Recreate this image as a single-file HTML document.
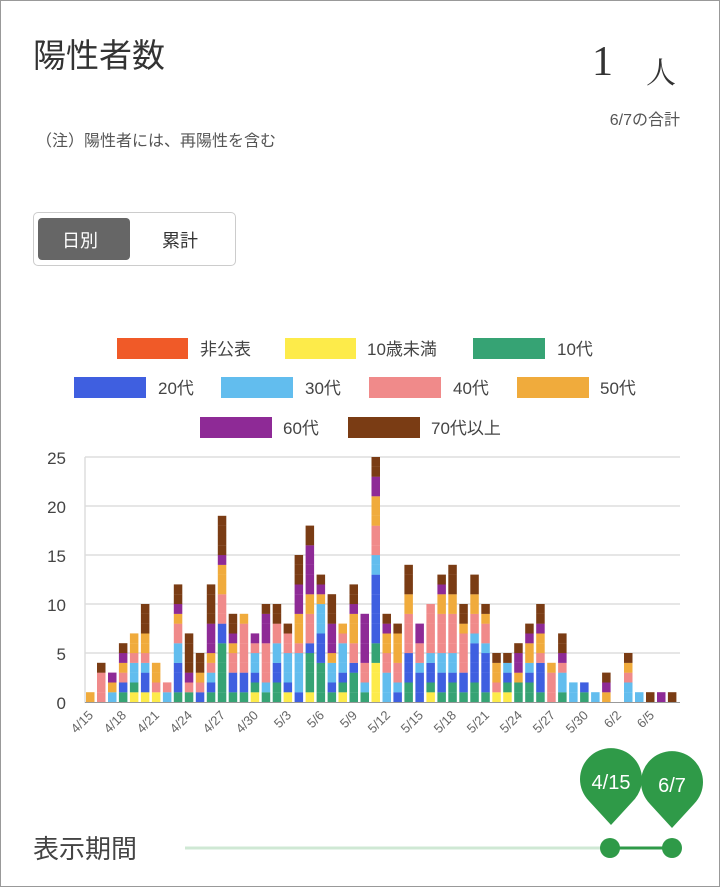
<!DOCTYPE html>
<html><head><meta charset="utf-8"><style>
body{margin:0;background:#fff;font-family:"Liberation Sans","Noto Sans CJK JP",sans-serif;}
#f{position:absolute;left:0;top:0;width:718px;height:885px;border:1px solid #999;}
.t{position:absolute;white-space:nowrap;}
</style></head><body><div id="f"></div>
<div class="t" style="left:33px;top:29px;font-size:33px;color:#333">陽性者数</div>
<div class="t" style="left:592px;top:38px;font-size:42px;color:#333;font-family:'Liberation Serif','Noto Serif CJK SC',serif">1</div>
<div class="t" style="left:646px;top:48px;font-size:30px;color:#333;font-family:'Noto Serif CJK SC',serif">人</div>
<div class="t" style="right:40px;top:106px;font-size:16px;color:#555">6/7の合計</div>
<div class="t" style="left:36px;top:127px;font-size:16px;color:#555">（注）陽性者には、再陽性を含む</div>
<div style="position:absolute;left:33px;top:212px;width:201px;height:52px;border:1px solid #ccc;border-radius:5px"></div>
<div style="position:absolute;left:38px;top:218px;width:92px;height:42px;background:#666;border-radius:4px"></div>
<div class="t" style="left:62px;top:227px;font-size:18px;color:#fff">日別</div>
<div class="t" style="left:162px;top:227px;font-size:18px;color:#333">累計</div>
<svg style="position:absolute;left:0;top:0" width="720" height="887" font-family="Liberation Sans, Noto Sans CJK JP, sans-serif">
<g font-size="17" fill="#444">
<rect x="117" y="338" width="71" height="21" fill="#f05a28"/><text x="200" y="355">非公表</text>
<rect x="285" y="338" width="71" height="21" fill="#fdeb4a"/><text x="367" y="355">10歳未満</text>
<rect x="473" y="338" width="72" height="21" fill="#36a374"/><text x="557" y="355">10代</text>
<rect x="74" y="377" width="72" height="21" fill="#3f5fe0"/><text x="158" y="394">20代</text>
<rect x="221" y="377" width="72" height="21" fill="#62bdee"/><text x="305" y="394">30代</text>
<rect x="369" y="377" width="72" height="21" fill="#f08a8a"/><text x="453" y="394">40代</text>
<rect x="517" y="377" width="72" height="21" fill="#f0ab3c"/><text x="600" y="394">50代</text>
<rect x="200" y="417" width="72" height="21" fill="#8e2a96"/><text x="283" y="434">60代</text>
<rect x="348" y="417" width="72" height="21" fill="#7a3c14"/><text x="431" y="434">70代以上</text>
</g>
<g stroke="#ddd" stroke-width="1.5">
<line x1="85" x2="680" y1="457" y2="457"/><line x1="85" x2="680" y1="506" y2="506"/><line x1="85" x2="680" y1="555" y2="555"/><line x1="85" x2="680" y1="604" y2="604"/><line x1="85" x2="680" y1="653" y2="653"/><line x1="85" x2="85" y1="457" y2="703"/>
</g>
<g font-size="17" fill="#444" text-anchor="end">
<text x="66" y="464">25</text><text x="66" y="513">20</text><text x="66" y="562">15</text><text x="66" y="611">10</text><text x="66" y="660">5</text><text x="66" y="709">0</text>
</g>
<g id="bars"></g>
<line x1="85" x2="680" y1="702.5" y2="702.5" stroke="#999"/>
<g font-size="13" fill="#666" text-anchor="end">
<text transform="translate(94,716) rotate(-45)">4/15</text>
<text transform="translate(127,716) rotate(-45)">4/18</text>
<text transform="translate(160,716) rotate(-45)">4/21</text>
<text transform="translate(193,716) rotate(-45)">4/24</text>
<text transform="translate(226,716) rotate(-45)">4/27</text>
<text transform="translate(259,716) rotate(-45)">4/30</text>
<text transform="translate(292,716) rotate(-45)">5/3</text>
<text transform="translate(325,716) rotate(-45)">5/6</text>
<text transform="translate(358,716) rotate(-45)">5/9</text>
<text transform="translate(391,716) rotate(-45)">5/12</text>
<text transform="translate(424,716) rotate(-45)">5/15</text>
<text transform="translate(457,716) rotate(-45)">5/18</text>
<text transform="translate(490,716) rotate(-45)">5/21</text>
<text transform="translate(523,716) rotate(-45)">5/24</text>
<text transform="translate(556,716) rotate(-45)">5/27</text>
<text transform="translate(589,716) rotate(-45)">5/30</text>
<text transform="translate(622,716) rotate(-45)">6/2</text>
<text transform="translate(655,716) rotate(-45)">6/5</text>
</g>
<text x="33" y="858" font-size="26" fill="#444">表示期間</text>
<line x1="185" x2="610" y1="848" y2="848" stroke="#cfe8d4" stroke-width="3"/>
<line x1="610" x2="672" y1="848" y2="848" stroke="#2f9a48" stroke-width="3"/>
<circle cx="610" cy="848" r="10" fill="#2f9a48"/><circle cx="672" cy="848" r="10" fill="#2f9a48"/>
<path d="M611 825 L589 801 A31 31 0 1 1 633 801 Z" fill="#2f9a48"/>
<path d="M672 828 L650 804 A31 31 0 1 1 694 804 Z" fill="#2f9a48"/>
<text x="611" y="789" font-size="20" fill="#fff" text-anchor="middle">4/15</text>
<text x="672" y="792" font-size="20" fill="#fff" text-anchor="middle">6/7</text>
</svg>
<script>
var C={n:"#f05a28",y:"#fdeb4a",g:"#36a374",b:"#3f5fe0",l:"#62bdee",p:"#f08a8a",o:"#f0ab3c",u:"#8e2a96",w:"#7a3c14"};
var D=["o","pppw","lou","gbpouw","ygllpoo","ybblpoowww","ypoo","lp","gbbbllppouww","gpuwwww","bpoww","gblpouuuwwww","ggggggbbpppooouwwww","gbbppouww","gbbpppppo","ygbllpu","glppppuuuw","ggbbllppww","yblllppw","bllllpooouuuwww","yggggbpppoouuuuuww","ggggbbblllouw","gbllouuuwww","ygblllpo","gggbppooouww","glppuuuuu","yyyyggbbbbbbbllpppooouuww","lllppoouw","blppooow","ggbbbppppoowww","bbblppuu","ygbblppppp","gbbllppppoouw","ggbllppppoowww","gbbppppoww","ggbbbblppooww","gbbbblppow","ypoow","ygblw","ggouuw","ggbloouw","gbbbpoouww","pppo","gllpuww","ll","gb","l","ouw","","llpow","l","w","u","w"];
var s="";for(var i=0;i<D.length;i++){var x=86+i*10.98,y=702;for(var j=0;j<D[i].length;j++){y-=9.8;s+='<rect x="'+x.toFixed(1)+'" y="'+y.toFixed(1)+'" width="8.5" height="9.9" fill="'+C[D[i][j]]+'"/>';}}
document.getElementById("bars").innerHTML=s;
</script>
</body></html>
